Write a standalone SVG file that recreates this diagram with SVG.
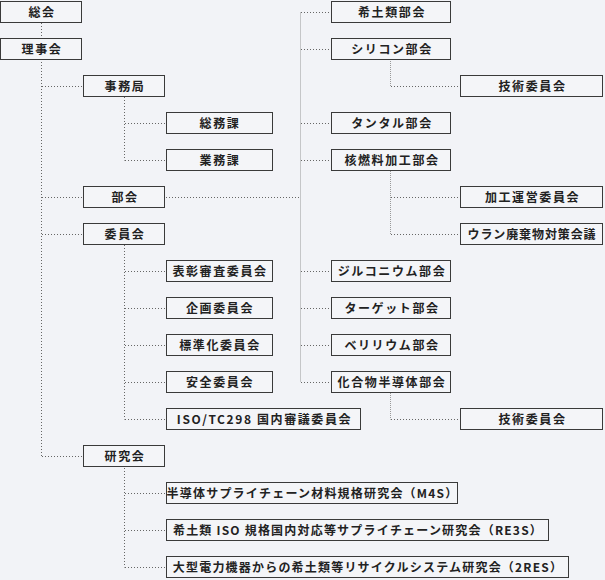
<svg xmlns="http://www.w3.org/2000/svg" width="605" height="580" viewBox="0 0 605 580">
<style>
.bg{fill:#f2f3f7}
.box{fill:#f4f5f8;stroke:#3a3a3a;stroke-width:1}
.t{font-family:"Noto Sans CJK JP","Noto Sans CJK SC",sans-serif;font-size:12px;font-weight:bold;fill:#222;text-anchor:middle;letter-spacing:1.6px}
.tl{letter-spacing:1.2px}
.tn{letter-spacing:0.9px}
.c{fill:none;stroke:#666;stroke-width:1;stroke-dasharray:1 2}
.c2{fill:none;stroke:#999;stroke-width:1;stroke-dasharray:1 1}
</style>
<rect class="bg" x="0" y="0" width="605" height="580"/>
<g id="connectors">
<path class="c" d="M41.5 23V456.5M42 86.5H83M42 197.5H83M42 234.5H83M42 456.5H83"/>
<path class="c" d="M124.5 97V160.5M125 123.5H166M125 160.5H166"/>
<path class="c" d="M124.5 245V419.5M125 271.5H166M125 308.5H166M125 345.5H166M125 382.5H166M125 419.5H166"/>
<path class="c" d="M124.5 468V567.5M125 493.5H166M125 530.5H166M125 567.5H166"/>
<path class="c" d="M166 197.5H300"/>
<path class="c2" d="M300.5 12.5V382.5"/>
<path class="c" d="M301 12.5H331M301 49.5H331M301 123.5H331M301 160.5H331M301 271.5H331M301 308.5H331M301 345.5H331M301 382.5H331"/>
<path class="c2" d="M390.5 61V86.5"/>
<path class="c" d="M391 86.5H460"/>
<path class="c2" d="M390.5 171V234.5"/>
<path class="c" d="M391 197.5H460M391 234.5H460"/>
<path class="c2" d="M390.5 393V419.5"/>
<path class="c" d="M391 419.5H460"/>
</g>
<g id="n-sokai"><rect class="box" x="0.5" y="1.5" width="81" height="21"/><text class="t" x="42" y="16.5">総会</text></g>
<g id="n-rijikai"><rect class="box" x="0.5" y="38.5" width="81" height="21"/><text class="t" x="42" y="53.5">理事会</text></g>
<g id="n-jimukyoku"><rect class="box" x="83.5" y="75.5" width="81" height="21"/><text class="t" x="125" y="90.5">事務局</text></g>
<g id="n-somuka"><rect class="box" x="166.5" y="112.5" width="106" height="21"/><text class="t" x="220" y="127.5">総務課</text></g>
<g id="n-gyomuka"><rect class="box" x="166.5" y="149.5" width="106" height="21"/><text class="t" x="220" y="164.5">業務課</text></g>
<g id="n-bukai"><rect class="box" x="83.5" y="186.5" width="81" height="21"/><text class="t" x="125" y="201.5">部会</text></g>
<g id="n-iinkai"><rect class="box" x="83.5" y="223.5" width="81" height="21"/><text class="t" x="125" y="238.5">委員会</text></g>
<g id="n-hyosho"><rect class="box" x="166.5" y="260.5" width="106" height="21"/><text class="t" x="220" y="275.5">表彰審査委員会</text></g>
<g id="n-kikaku"><rect class="box" x="166.5" y="297.5" width="106" height="21"/><text class="t" x="220" y="312.5">企画委員会</text></g>
<g id="n-hyojunka"><rect class="box" x="166.5" y="334.5" width="106" height="21"/><text class="t" x="220" y="349.5">標準化委員会</text></g>
<g id="n-anzen"><rect class="box" x="166.5" y="371.5" width="106" height="21"/><text class="t" x="220" y="386.5">安全委員会</text></g>
<g id="n-iso"><rect class="box" x="166.5" y="408.5" width="194" height="21"/><text class="t" x="264.5" y="423.5">ISO/TC298 国内審議委員会</text></g>
<g id="n-kenkyukai"><rect class="box" x="83.5" y="445.5" width="81" height="21"/><text class="t" x="125" y="460.5">研究会</text></g>
<g id="n-m4s"><rect class="box" x="166.5" y="482.5" width="291" height="21"/><text class="t tl" x="312.5" y="497.5">半導体サプライチェーン材料規格研究会（M4S）</text></g>
<g id="n-re3s"><rect class="box" x="166.5" y="519.5" width="382" height="21"/><text class="t tl" x="358" y="534.5">希土類 ISO 規格国内対応等サプライチェーン研究会（RE3S）</text></g>
<g id="n-2res"><rect class="box" x="166.5" y="556.5" width="402" height="21"/><text class="t tl" x="368" y="571.5">大型電力機器からの希土類等リサイクルシステム研究会（2RES）</text></g>
<g id="n-kidorui"><rect class="box" x="331.5" y="1.5" width="119" height="21"/><text class="t" x="392" y="16.5">希土類部会</text></g>
<g id="n-silicon"><rect class="box" x="331.5" y="38.5" width="119" height="21"/><text class="t" x="392" y="53.5">シリコン部会</text></g>
<g id="n-gijutsu1"><rect class="box" x="460.5" y="75.5" width="142" height="21"/><text class="t" x="532.5" y="90.5">技術委員会</text></g>
<g id="n-tantal"><rect class="box" x="331.5" y="112.5" width="119" height="21"/><text class="t" x="392" y="127.5">タンタル部会</text></g>
<g id="n-kakunenryo"><rect class="box" x="331.5" y="149.5" width="119" height="21"/><text class="t" x="392" y="164.5">核燃料加工部会</text></g>
<g id="n-kako"><rect class="box" x="460.5" y="186.5" width="142" height="21"/><text class="t" x="532.5" y="201.5">加工運営委員会</text></g>
<g id="n-uran"><rect class="box" x="460.5" y="223.5" width="142" height="21"/><text class="t tn" x="532" y="238.5">ウラン廃棄物対策会議</text></g>
<g id="n-zirconium"><rect class="box" x="331.5" y="260.5" width="119" height="21"/><text class="t" x="392" y="275.5">ジルコニウム部会</text></g>
<g id="n-target"><rect class="box" x="331.5" y="297.5" width="119" height="21"/><text class="t" x="392" y="312.5">ターゲット部会</text></g>
<g id="n-beryllium"><rect class="box" x="331.5" y="334.5" width="119" height="21"/><text class="t" x="392" y="349.5">ベリリウム部会</text></g>
<g id="n-kagobutsu"><rect class="box" x="331.5" y="371.5" width="119" height="21"/><text class="t" x="392" y="386.5">化合物半導体部会</text></g>
<g id="n-gijutsu2"><rect class="box" x="460.5" y="408.5" width="142" height="21"/><text class="t" x="532.5" y="423.5">技術委員会</text></g>
</svg>
